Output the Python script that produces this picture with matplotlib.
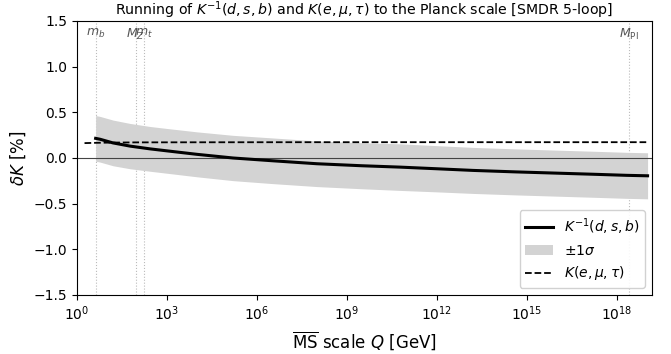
import numpy as np
import matplotlib
matplotlib.use("Agg")
import matplotlib.pyplot as plt

# log10(Q/GeV) sample points and values
logQ_d = [0.62, 0.77, 1.2, 1.77, 2.43, 3.0, 4.0, 5.2, 6.5, 8.0, 9.5, 10.77, 12.0, 13.2, 14.6, 16.0, 17.2, 18.33, 19.02]
Kinv_dsb = [0.215, 0.205, 0.165, 0.13, 0.10, 0.078, 0.04, 0.0, -0.03, -0.063, -0.085, -0.10, -0.118, -0.136, -0.152, -0.166, -0.178, -0.19, -0.195]
sigma_dsb = [0.25, 0.25, 0.25, 0.248, 0.245, 0.245, 0.246, 0.248, 0.25, 0.25, 0.252, 0.255, 0.253, 0.252, 0.252, 0.252, 0.252, 0.252, 0.252]

logQ_l = [0.25, 0.62, 1.0, 2.0, 4.0, 8.0, 12.0, 16.0, 19.02]
K_emutau = [0.163, 0.166, 0.168, 0.171, 0.172, 0.173, 0.173, 0.173, 0.173]

mark_names = [r"$m_b$", r"$M_Z$", r"$m_t$", r"$M_{\rm Pl}$"]
mark_Q = [4.18, 91.19, 172.7, 2.435e18]

Q_d = 10 ** np.array(logQ_d)
Q_l = 10 ** np.array(logQ_l)
K = np.array(Kinv_dsb)
s = np.array(sigma_dsb)

fig = plt.figure(figsize=(6.71, 3.54), dpi=100)
ax = fig.add_axes([0.1148, 0.1667, 0.857, 0.7740])

h_band = ax.fill_between(Q_d, K - s, K + s, color="#d3d3d3", lw=0, label=r"$\pm1\sigma$", zorder=1)
h_line, = ax.plot(Q_d, K, color="black", lw=2.2, label=r"$K^{-1}(d,s,b)$", zorder=3)
h_lep, = ax.plot(Q_l, K_emutau, color="black", lw=1.3, ls="--", label=r"$K(e,\mu,\tau)$", zorder=3)
ax.axhline(0, color="#444444", lw=0.8, zorder=2)

for name, q in zip(mark_names, mark_Q):
    ax.axvline(q, color="#bbbbbb", lw=0.8, ls=":", zorder=0)
    ax.text(q, 1.43, name, ha="center", va="top", color="#555555", fontsize=9)

ax.set_xscale("log")
ax.set_xlim(1, 10 ** 19.17)
ax.set_ylim(-1.5, 1.5)
ax.set_xticks([1e0, 1e3, 1e6, 1e9, 1e12, 1e15, 1e18])
ax.minorticks_off()
ax.set_yticks([-1.5, -1.0, -0.5, 0.0, 0.5, 1.0, 1.5])
ax.tick_params(labelsize=10)
ax.set_xlabel(r"$\overline{\rm MS}$ scale $Q$ [GeV]", fontsize=12)
ax.set_ylabel(r"$\delta K$ [%]", fontsize=12)
ax.set_title(r"Running of $K^{-1}(d,s,b)$ and $K(e,\mu,\tau)$ to the Planck scale [SMDR 5-loop]",
             fontsize=10.2, pad=1)
ax.legend(handles=[h_line, h_band, h_lep], loc="lower right", fontsize=10, framealpha=0.9)

fig.savefig("out.png", dpi=100)
